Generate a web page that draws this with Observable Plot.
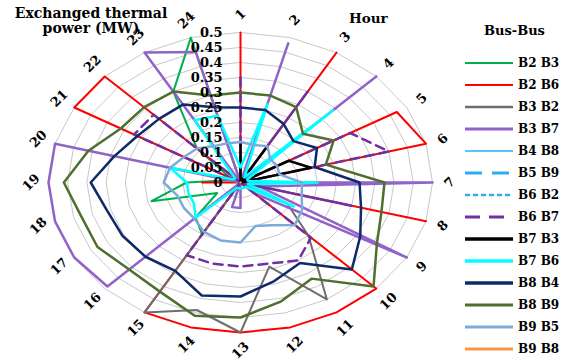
<!DOCTYPE html>
<html><head><meta charset="utf-8">
<script src="https://cdn.jsdelivr.net/npm/d3@7"></script>
<script src="https://cdn.jsdelivr.net/npm/@observablehq/plot@0.6"></script>
<style>
body{margin:0;background:#fff;}
#wrap{position:relative;width:566px;height:361px;overflow:hidden;font-family:"DejaVu Serif",serif;font-weight:bold;color:#000;}
#chart{position:absolute;left:0;top:0;}
.t{position:absolute;white-space:nowrap;line-height:1;}
</style></head><body>
<div id="wrap">
  <div id="chart"></div>
  <div class="t" style="left:0;width:182px;top:6px;text-align:center;font-size:14px;line-height:15px;">Exchanged thermal<br>power (MW)</div>
  <div class="t" style="left:349px;top:12px;font-size:13.5px;">Hour</div>
  <div class="t" style="left:484px;top:24px;font-size:13px;">Bus-Bus</div>
  <div id="legend"></div>
</div>
<script>
// ---- categories & tick labels ----
const hourLabels = ["1","2","3","4","5","6","7","8","9","10","11","12","13","14","15","16","17","18","19","20","21","22","23","24"];
const tickValues = [0,0.05,0.1,0.15,0.2,0.25,0.3,0.35,0.4,0.45,0.5];
const tickLabels = ["0","0.05","0.1","0.15","0.2","0.25","0.3","0.35","0.4","0.45","0.5"];
const seriesNames = ["B2 B3","B2 B6","B3 B2","B3 B7","B4 B8","B5 B9","B6 B2","B6 B7","B7 B3","B7 B6","B8 B4","B8 B9","B9 B5","B9 B8"];

// ---- series values (MW), hours 1..24 ----
const b2b3 = [0,0,0,0,0,0,0,0,0,0,0,0,0,0,0.2,0.165,0.07,0.24,0.14,0.03,0.03,0.16,0.35,0.5];
const b2b6 = [0.5,0,0.5,0,0.47,0.5,0,0.5,0,0.5,0.5,0.5,0.5,0.5,0.5,0,0,0,0.1,0,0.5,0.5,0,0];
const b3b2 = [0,0,0,0,0,0,0,0,0.14,0.25,0.45,0.29,0.5,0.44,0.5,0,0,0,0,0,0,0,0,0];
const b3b7 = [0,0.48,0,0.5,0,0,0.5,0.05,0.5,0.05,0,0,0.085,0.085,0,0.49,0.5,0.5,0.5,0.5,0,0,0.5,0.45];
const b4b8 = [0,0,0,0,0,0,0,0,0,0,0,0,0,0,0,0,0,0,0,0,0,0,0,0];
const b5b9 = [0,0,0,0,0,0,0,0,0,0,0,0,0,0,0,0,0,0,0,0,0,0,0,0];
const b6b2 = [0,0,0,0,0,0,0,0,0,0,0,0,0,0,0,0,0,0,0,0,0,0,0,0];
const b6b7 = [0.35,0,0.35,0,0.33,0.4,0,0.3,0,0.26,0.3,0.28,0.28,0.28,0.28,0,0,0,0,0,0.32,0.32,0,0];
const b7b3 = [0.13,0,0.13,0,0.145,0.19,0,0,0,0,0,0,0,0,0,0,0,0,0,0,0,0,0,0];
const b7b6 = [0.05,0.27,0.02,0.34,0.02,0.02,0.2,0.02,0.16,0.02,0.02,0.02,0.02,0.02,0.02,0.165,0.14,0.14,0.14,0.19,0.02,0.02,0.24,0.23];
const b8b4 = [0.25,0.25,0.225,0.195,0.23,0.2,0.31,0.325,0.36,0.41,0.31,0.34,0.38,0.39,0.34,0.35,0.355,0.36,0.39,0.34,0.31,0.3,0.3,0.26];
const b8b9 = [0.30,0.30,0.29,0.23,0.28,0.23,0.375,0.38,0.41,0.49,0.37,0.41,0.45,0.46,0.42,0.41,0.43,0.43,0.46,0.41,0.36,0.355,0.35,0.30];
const b9b5 = [0.135,0.13,0.14,0.11,0.11,0.105,0.16,0.165,0.185,0.2,0.165,0.15,0.2,0.2,0.19,0.17,0.17,0.17,0.2,0.19,0.17,0.16,0.14,0.135];
const b9b8 = [0,0,0,0,0,0,0,0,0,0,0,0,0,0,0,0,0,0,0,0,0,0,0,0];
const seriesValues = [b2b3,b2b6,b3b2,b3b7,b4b8,b5b9,b6b2,b6b7,b7b3,b7b6,b8b4,b8b9,b9b5,b9b8];

// ---- styles ----
const colors = ["#00b050","#ff0000","#6e6e6e","#9163c8","#55c8f5","#2aaef0","#2aaef0","#7030a0","#000000","#00ffff","#0f2a68","#4f6f2f","#80a9db","#f79646"];
const dashes = [null,null,null,null,null,"16,9","4,2",null,null,null,null,null,null,null];
const chartDashes = [null,null,null,null,null,"10,6","3,2","9,6",null,null,null,null,null,null];
const widths = [2,2,2,2.5,1.5,2.5,2.5,2.5,2.5,2.5,2.5,2.5,2.5,2.5];
const legendDashes = [null,null,null,null,null,"17,10","5,3","15,9",null,null,null,null,null,null];
const legendWidths = [2,2,2.5,3,2,3,2.5,3,3.5,3.5,3.5,3,3,3];

const ang = i => 2 * Math.PI * i / 24;
const px = d => d.value * Math.sin(ang(d.i));
const py = d => d.value * Math.cos(ang(d.i));

const gridRows = tickValues.slice(1).flatMap(v => hourLabels.map((h, i) => ({level: v, value: v, i})));
const hourRows = hourLabels.map((h, i) => ({hour: h, i}));

const seriesMarks = seriesNames.map((name, k) =>
  Plot.line(seriesValues[k].map((v, i) => ({name, value: v, i})), {
    x: px, y: py, curve: "linear-closed",
    stroke: colors[k], strokeWidth: widths[k],
    strokeDasharray: chartDashes[k] || undefined,
    strokeLinejoin: "round"
  })
);

const chart = Plot.plot({
  width: 566, height: 361, margin: 0,
  style: {background: "transparent"},
  x: {domain: [-0.5, 0.5], range: [48, 432], axis: null},
  y: {domain: [-0.5, 0.5], range: [332, 32], axis: null},
  marks: [
    Plot.line(gridRows, {x: px, y: py, z: "level", curve: "linear-closed", stroke: "#c8c8c8", strokeWidth: 1}),
    ...seriesMarks,
    Plot.text(tickValues, {x: () => 0, y: d => d, text: (d, i) => tickLabels[i], textAnchor: "end", dx: -18,
      fontSize: 13, fontWeight: "bold", fontFamily: "DejaVu Serif", fill: "#000"}),
    Plot.text(hourRows, {x: d => 0.545 * Math.sin(ang(d.i)), y: d => 0.56 * Math.cos(ang(d.i)), text: "hour",
      rotate: -45, fontSize: 13, fontWeight: "bold", fontFamily: "DejaVu Serif", fill: "#000"})
  ]
});
document.getElementById("chart").appendChild(chart);

// ---- legend ----
const legend = document.getElementById("legend");
seriesNames.forEach((name, k) => {
  const yc = 63 + 22 * k;
  const s = document.createElementNS("http://www.w3.org/2000/svg", "svg");
  s.setAttribute("width", 48); s.setAttribute("height", 10);
  s.style.position = "absolute"; s.style.left = "465px"; s.style.top = (yc - 5) + "px";
  const l = document.createElementNS("http://www.w3.org/2000/svg", "line");
  l.setAttribute("x1", 0); l.setAttribute("x2", 48); l.setAttribute("y1", 5); l.setAttribute("y2", 5);
  l.setAttribute("stroke", colors[k]); l.setAttribute("stroke-width", legendWidths[k]);
  if (legendDashes[k]) l.setAttribute("stroke-dasharray", legendDashes[k]);
  s.appendChild(l);
  legend.appendChild(s);
  const t = document.createElement("div");
  t.className = "t"; t.textContent = name;
  t.style.left = "518px"; t.style.top = (yc - 6) + "px"; t.style.fontSize = "12px";
  legend.appendChild(t);
});
</script>
</body></html>
